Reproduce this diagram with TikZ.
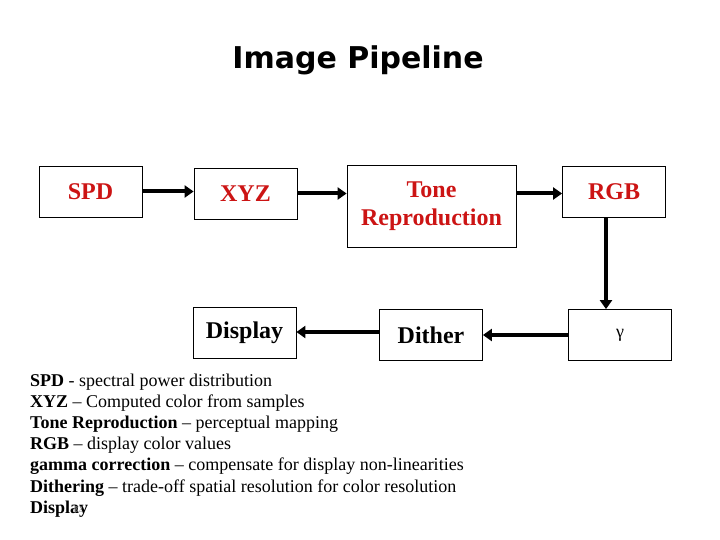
\documentclass[tikz,border=0pt]{standalone}
\usepackage{fontspec}
\setmainfont{Liberation Serif}
\newfontfamily\titlefont{DejaVu Sans}
\usetikzlibrary{arrows.meta}
\definecolor{boxred}{RGB}{204,20,20}
\tikzset{
  stage/.style={draw, line width=0.8pt, minimum width=103pt, minimum height=51pt,
    inner sep=2pt, align=center, font=\fontsize{24}{28}\selectfont\bfseries},
  redtext/.style={text=boxred},
  flow/.style={line width=4pt, -{Triangle[length=9pt,width=12pt]}},
  legend/.style={anchor=base west, inner sep=0pt, font=\fontsize{18}{20}\selectfont}
}
\begin{document}
\begin{tikzpicture}[x=1pt,y=-1pt]
  \useasboundingbox (0,0) rectangle (720,540);
  \node (title) at (358,60) {\titlefont\bfseries\fontsize{30}{34}\selectfont Image Pipeline};
  % top row
  \node[stage,redtext] (spd) at (90.5,191.5) {SPD};
  \node[stage,redtext] (xyz) at (245.5,193.5) {XYZ};
  \node[stage,redtext,minimum width=169pt,minimum height=82pt] (tone) at (431.5,206) {Tone\\Reproduction};
  \node[stage,redtext] (rgb) at (614,191.5) {RGB};
  % bottom row
  \node[stage] (display) at (244.5,332.5) {Display};
  \node[stage] (dither) at (431,335) {Dither};
  \node[stage,font=\fontsize{18}{20}\selectfont] (gamma) at (620,335) {γ};
  % connectors
  \draw[flow] (spd.east) -- (spd.east -| xyz.west);
  \draw[flow] (xyz.east) -- (xyz.east -| tone.west);
  \draw[flow] (xyz.east -| tone.east) -- (xyz.east -| rgb.west);
  \draw[flow] (rgb.south -| 606,0) -- (gamma.north -| 606,0);
  \draw[flow] (gamma.west) -- (gamma.west -| dither.east);
  \draw[flow] (dither.west |- 0,332) -- (display.east |- 0,332);
  % legend
  \node[legend] (l1) at (30,386) {\textbf{SPD} - spectral power distribution};
  \node[legend] (l2) at (30,407.2) {\textbf{XYZ} -- Computed color from samples};
  \node[legend] (l3) at (30,428.4) {\textbf{Tone Reproduction} -- perceptual mapping};
  \node[legend] (l4) at (30,449.6) {\textbf{RGB} -- display color values};
  \node[legend] (l5) at (30,470.8) {\textbf{gamma correction} -- compensate for display non-linearities};
  \node[legend] (l6) at (30,492) {\textbf{Dithering} -- trade-off spatial resolution for color resolution};
  \node[legend] (l7) at (30,513.2) {\textbf{Display}};
  \node[text=gray!70, font=\fontsize{9}{10}\selectfont, inner sep=0pt] (page) at (78,510) {82};
\end{tikzpicture}
\end{document}
